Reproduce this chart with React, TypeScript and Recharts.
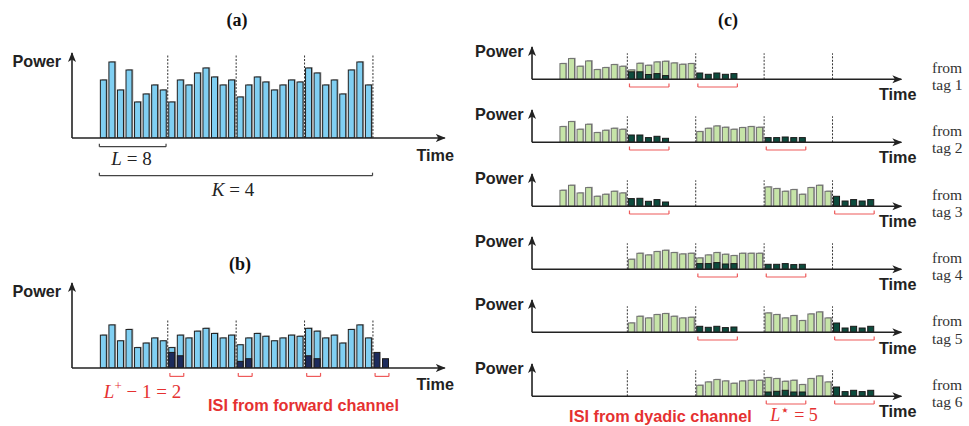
import React from "react";
import { BarChart, Bar, XAxis, YAxis, ReferenceLine } from "recharts";

// colours
const C = {
  axis: "#222222",
  blue: "#80CFF2",
  navy: "#1C2B5C",
  green: "#C6E4A8",
  greenEdge: "#6E6E6E",
  darkGreen: "#0D4B3D",
  shadow: "#A6A6A6",
  red: "#E53131",
  bracketRed: "#EE5A5A",
};

const SANS = '"Liberation Sans", Arial, sans-serif';
const SERIF = '"Liberation Serif", "Times New Roman", serif';

// slot width in px, L = 8 symbols per block, K = 4 blocks
const SLOT = 8.55;
const L = 8;
const BOUNDARIES = [8, 16, 24, 32];

// (a) / (b): received power of one tag, 4 blocks
const BLOCK_1 = [58, 76, 48, 68, 36, 44, 53, 48];
const BLOCK_2 = [36, 58, 53, 65, 70, 61, 53, 58];
const BLOCK_3 = [41, 53, 61, 56, 48, 53, 58, 56];
const BLOCK_4 = [70, 65, 53, 58, 44, 68, 76, 53];
const POWER_A = [...BLOCK_1, ...BLOCK_2, ...BLOCK_3, ...BLOCK_4];
// (b): forward-channel ISI leaking into the next L+ - 1 = 2 slots
const ISI_FWD = [
  [27.5, 21.6],
  [11.7, 16.4],
  [21.6, 16.4],
  [27.5, 16.4],
];

// (c): which two blocks each tag uses
const TAG_BLOCKS = [
  [0, 1],
  [0, 2],
  [0, 3],
  [1, 2],
  [1, 3],
  [2, 3],
];
const TAG_SIGNAL = [
  [[15.7, 20.7, 13, 18.3, 9.7, 11.7, 14.7, 13], [9.3, 16, 14, 17.3, 18, 16.3, 15, 15.7]],
  [[15.7, 20.7, 13, 18, 9.7, 12, 14, 13], [10.7, 14, 16.3, 15, 13, 14.7, 15.7, 15]],
  [[16, 21, 13.3, 18.7, 10, 12, 15, 13.3], [19.3, 17.7, 15, 16.7, 12, 18.7, 21, 15]],
  [[10, 16, 14.3, 17.7, 19, 16.7, 15.3, 16], [11.3, 14.3, 16.7, 15, 13.7, 16, 16, 16]],
  [[9.3, 16, 14.3, 17.7, 18.7, 16, 14.3, 15], [19.3, 17.7, 14.3, 16.7, 11.7, 18.3, 20.3, 14.3]],
  [[11, 14.3, 16.7, 15.3, 13, 15.3, 16, 16], [18.7, 17.7, 15, 16, 11.7, 17.7, 20.3, 14.3]],
];
// dyadic-channel ISI, L* = 5 slots after each block
const TAG_ISI = [
  [[7.5, 7.5, 4.8, 5.7, 3.7], [6.3, 5, 6.3, 5, 5.7]],
  [[7.3, 7.3, 4.7, 6, 4], [4.7, 4.7, 5.3, 4.7, 4.7]],
  [[7.7, 8, 5, 6.7, 4.3], [10, 5.3, 6.7, 5.3, 6.7]],
  [[5.7, 5.7, 6.7, 5.3, 5.7], [5, 5, 5.7, 4.7, 5]],
  [[6, 5, 6, 4.7, 5.3], [9.3, 4.3, 6, 4.3, 6]],
  [[4.3, 5, 6, 4.3, 4.3], [9.3, 4.7, 6, 4.7, 6]],
];
const TAG_NAMES = ["tag 1", "tag 2", "tag 3", "tag 4", "tag 5", "tag 6"];

type Row = { t: number; sig: number | null; isi: number | null };

function emptyRows(n: number): Row[] {
  return Array.from({ length: n }, (_, i) => ({ t: i + 0.5, sig: null, isi: null }));
}

const rowsA: Row[] = emptyRows(34).map((r, i) => ({ ...r, sig: POWER_A[i] ?? null }));

const rowsB: Row[] = (() => {
  const rows = emptyRows(34).map((r, i) => ({ ...r, sig: POWER_A[i] ?? null }));
  ISI_FWD.forEach((vals, k) => vals.forEach((v, j) => (rows[(k + 1) * L + j].isi = v)));
  return rows;
})();

const rowsC: Row[][] = TAG_BLOCKS.map((blocks, t) => {
  const rows = emptyRows(37);
  blocks.forEach((b, k) => {
    TAG_SIGNAL[t][k].forEach((v, j) => (rows[b * L + j].sig = v));
    TAG_ISI[t][k].forEach((v, j) => (rows[(b + 1) * L + j].isi = v));
  });
  return rows;
});

// brackets under each run of ISI slots
function isiRuns(rows: Row[]) {
  const runs: [number, number][] = [];
  let start = -1;
  rows.forEach((r, i) => {
    if (r.isi != null && start < 0) start = i;
    if ((r.isi == null || i === rows.length - 1) && start >= 0) {
      const end = r.isi == null ? i : i + 1;
      runs.push([start + 0.25, end - 0.13]);
      start = -1;
    }
  });
  return runs;
}

type Bracket = { x1: number; x2: number; drop: number; tick: number; color: string };

const lightShape = (fill: string, stroke: string) => (p: any) => {
  const { x, y, width, height } = p;
  if (!height || height <= 0) return <g />;
  return (
    <g>
      <rect x={x + 1.3} y={y - 0.8} width={width} height={height + 0.8} fill={C.shadow} />
      <rect x={x} y={y} width={width} height={height} fill={fill} stroke={stroke} strokeWidth={1} />
    </g>
  );
};

const darkShape = (fill: string) => (p: any) => {
  const { x, y, width, height } = p;
  if (!height || height <= 0) return <g />;
  return <rect x={x} y={y} width={width} height={height} fill={fill} stroke="#1a1a1a" strokeWidth={1} />;
};

interface PanelProps {
  left: number; // y-axis x position
  top: number; // arrow tip y
  height: number; // px from baseline to arrow tip
  xMin: number;
  xMax: number;
  yMax: number;
  rows: Row[];
  light: [string, string];
  dark: string;
  divHeight: number; // px height of the dotted block separators
  brackets: Bracket[];
  bottom: number;
}

function Panel(props: PanelProps) {
  const { left, top, height, xMin, xMax, yMax, rows, light, dark, divHeight, brackets, bottom } = props;
  const u = yMax / height;
  const pad = 14;
  const width = (xMax - xMin) * SLOT;
  const axisLine = { stroke: C.axis, strokeWidth: 1.6 };
  return (
    <div style={{ position: "absolute", left: left - pad, top: top - pad }}>
      <BarChart
        width={width + pad * 2}
        height={height + pad + bottom}
        data={rows}
        margin={{ top: pad, right: pad, bottom: bottom - 1, left: pad - 1 }}
        barSize={6}
        barGap={-6}
      >
        <XAxis
          type="number"
          dataKey="t"
          domain={[xMin, xMax]}
          allowDataOverflow
          height={1}
          tick={false}
          tickLine={false}
          axisLine={{ ...axisLine, markerEnd: "url(#arrowHead)" }}
        />
        <YAxis
          type="number"
          domain={[0, yMax]}
          allowDataOverflow
          width={1}
          tick={false}
          tickLine={false}
          axisLine={{ ...axisLine, markerStart: "url(#arrowHead)" }}
        />
        {BOUNDARIES.map((b) => (
          <ReferenceLine
            key={"d" + b}
            segment={[
              { x: b, y: 0 },
              { x: b, y: divHeight * u },
            ]}
            stroke="#333"
            strokeWidth={1}
            strokeDasharray="2 1.5"
            ifOverflow="visible"
          />
        ))}
        <Bar dataKey="sig" isAnimationActive={false} shape={lightShape(light[0], light[1])} />
        <Bar dataKey="isi" isAnimationActive={false} shape={darkShape(dark)} />
        {brackets.flatMap((br, i) => [
          <ReferenceLine
            key={"bh" + i}
            segment={[
              { x: br.x1, y: -br.drop * u },
              { x: br.x2, y: -br.drop * u },
            ]}
            stroke={br.color}
            strokeWidth={1.2}
            ifOverflow="visible"
          />,
          <ReferenceLine
            key={"bl" + i}
            segment={[
              { x: br.x1, y: -br.drop * u },
              { x: br.x1, y: -(br.drop - br.tick) * u },
            ]}
            stroke={br.color}
            strokeWidth={1.2}
            ifOverflow="visible"
          />,
          <ReferenceLine
            key={"br" + i}
            segment={[
              { x: br.x2, y: -br.drop * u },
              { x: br.x2, y: -(br.drop - br.tick) * u },
            ]}
            stroke={br.color}
            strokeWidth={1.2}
            ifOverflow="visible"
          />,
        ])}
      </BarChart>
    </div>
  );
}

const redBrackets = (rows: Row[], drop: number): Bracket[] =>
  isiRuns(rows).map(([x1, x2]) => ({ x1, x2, drop, tick: 3.5, color: C.bracketRed }));

// baselines of the six rows in (c)
const ROW_BASE = [79, 142.3, 206, 269.3, 332.7, 396];

export default function App() {
  const bracketsA: Bracket[] = [
    { x1: 0, x2: 7.8, drop: 8.7, tick: 3, color: "#444" },
    { x1: 0, x2: 31.95, drop: 37.7, tick: 3, color: "#444" },
  ];
  return (
    <div
      style={{
        position: "absolute",
        left: 0,
        top: 0,
        width: 969,
        height: 426,
        background: "#fff",
        overflow: "hidden",
      }}
    >
      <Panel
        left={71.7}
        top={52.5}
        height={85}
        xMin={-3.2}
        xMax={40.4}
        yMax={85}
        rows={rowsA}
        light={[C.blue, "#1e1e1e"]}
        dark={C.navy}
        divHeight={84}
        brackets={bracketsA}
        bottom={45}
      />
      <Panel
        left={71.7}
        top={283.3}
        height={85}
        xMin={-3.2}
        xMax={40.4}
        yMax={150}
        rows={rowsB}
        light={[C.blue, "#1e1e1e"]}
        dark={C.navy}
        divHeight={48}
        brackets={redBrackets(rowsB, 8.4)}
        bottom={20}
      />
      {rowsC.map((rows, t) => (
        <Panel
          key={t}
          left={532.3}
          top={ROW_BASE[t] - 32.3}
          height={32.3}
          xMin={-3.15}
          xMax={40.05}
          yMax={32.3}
          rows={rows}
          light={[C.green, C.greenEdge]}
          dark={C.darkGreen}
          divHeight={26}
          brackets={redBrackets(rows, 7.7)}
          bottom={16}
        />
      ))}

      <svg
        width={969}
        height={426}
        style={{ position: "absolute", left: 0, top: 0, pointerEvents: "none" }}
      >
        <defs>
          <marker
            id="arrowHead"
            viewBox="0 0 10 10"
            refX={9}
            refY={5}
            markerWidth={10}
            markerHeight={10}
            markerUnits="userSpaceOnUse"
            orient="auto-start-reverse"
          >
            <path d="M0,1 L10,5 L0,9 L2.6,5 z" fill={C.axis} />
          </marker>
        </defs>

        <g fontFamily={SERIF} fontWeight="bold" fontSize={18} textAnchor="middle" fill="#111">
          <text x={237} y={26}>(a)</text>
          <text x={240} y={270}>(b)</text>
          <text x={728} y={26}>(c)</text>
        </g>

        <g fontFamily={SANS} fontWeight="bold" fontSize={16.2} fill="#222">
          <text x={12.5} y={67}>Power</text>
          <text x={416.5} y={160.7}>Time</text>
          <text x={12.5} y={296.7}>Power</text>
          <text x={416.5} y={390}>Time</text>
          {ROW_BASE.map((b, i) => (
            <g key={i}>
              <text x={475} y={b - 22.3}>Power</text>
              <text x={879} y={b + 21}>Time</text>
            </g>
          ))}
        </g>

        <g fontFamily={SERIF} fontSize={15.5} fill="#333">
          {ROW_BASE.map((b, i) => (
            <g key={i}>
              <text x={932} y={b - 6.5}>from</text>
              <text x={932} y={b + 11}>{TAG_NAMES[i]}</text>
            </g>
          ))}
        </g>

        <g fontFamily={SERIF} fontSize={19} textAnchor="middle" fill="#222">
          <text x={131.5} y={165}>
            <tspan fontStyle="italic">L</tspan> = 8
          </text>
          <text x={233} y={196}>
            <tspan fontStyle="italic">K</tspan> = 4
          </text>
        </g>

        <g fontFamily={SERIF} fontSize={19} textAnchor="middle" fill={C.red}>
          <text x={142.5} y={398}>
            <tspan fontStyle="italic">L</tspan>
            <tspan fontSize={13} dy={-8}>+</tspan>
            <tspan dy={8}> − 1 = 2</tspan>
          </text>
          <text x={794} y={421} fontSize={18}>
            <tspan fontStyle="italic">L</tspan>
            <tspan fontSize={15} dy={-6} fontFamily='"DejaVu Sans", sans-serif'>⋆</tspan>
            <tspan dy={6}> = 5</tspan>
          </text>
        </g>

        <g fontFamily={SANS} fontWeight="bold" fontSize={16.3} textAnchor="middle" fill={C.red}>
          <text x={303.5} y={411}>ISI from forward channel</text>
          <text x={660.5} y={421.7}>ISI from dyadic channel</text>
        </g>
      </svg>
    </div>
  );
}
